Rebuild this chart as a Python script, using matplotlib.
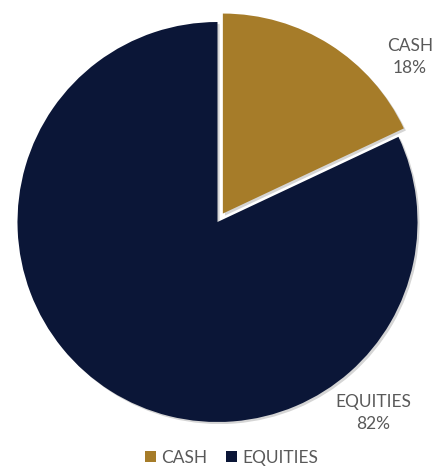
import matplotlib.pyplot as plt
import matplotlib.patheffects as pe
from matplotlib.patches import Patch

# Data
labels = ['CASH', 'EQUITIES']
values = [18, 82]
colors = ['#A67C29', '#0B1637']
text_color = '#595959'

plt.rcParams['font.family'] = ['Lato', 'DejaVu Sans']

fig = plt.figure(figsize=(4.33, 4.69), dpi=100)
ax = fig.add_axes([0, 0, 1, 1])

wedges, _ = ax.pie(values, colors=colors, startangle=90, counterclock=False,
                   radius=200, center=(217.5, 247), explode=[0.05 * 200, 0],
                   wedgeprops=dict(linewidth=0), frame=True)
for w in wedges:
    w.set_path_effects([pe.SimplePatchShadow(offset=(1.5, -1.5), shadow_rgbFace='#888888', alpha=0.35),
                        pe.Normal()])
ax.set_xlim(0, 433)
ax.set_ylim(0, 469)
ax.set_aspect('equal')
ax.axis('off')

# data labels
ax.text(410, 412, f'{labels[0]}\n{values[0]}%', ha='center', va='center',
        fontsize=12.5, color=text_color, linespacing=1.4)
ax.text(373, 56, f'{labels[1]}\n{values[1]}%', ha='center', va='center',
        fontsize=12.5, color=text_color, linespacing=1.4)

handles = [Patch(facecolor=c, edgecolor='none') for c in colors]
leg = ax.legend(handles, labels, loc='center', bbox_to_anchor=(0.535, 11 / 469),
                bbox_transform=fig.transFigure, ncol=2, frameon=False,
                fontsize=12.5, handlelength=0.6, handleheight=0.6,
                handletextpad=0.3, columnspacing=1.1)
for t in leg.get_texts():
    t.set_color(text_color)

fig.savefig('out.png', dpi=100)
